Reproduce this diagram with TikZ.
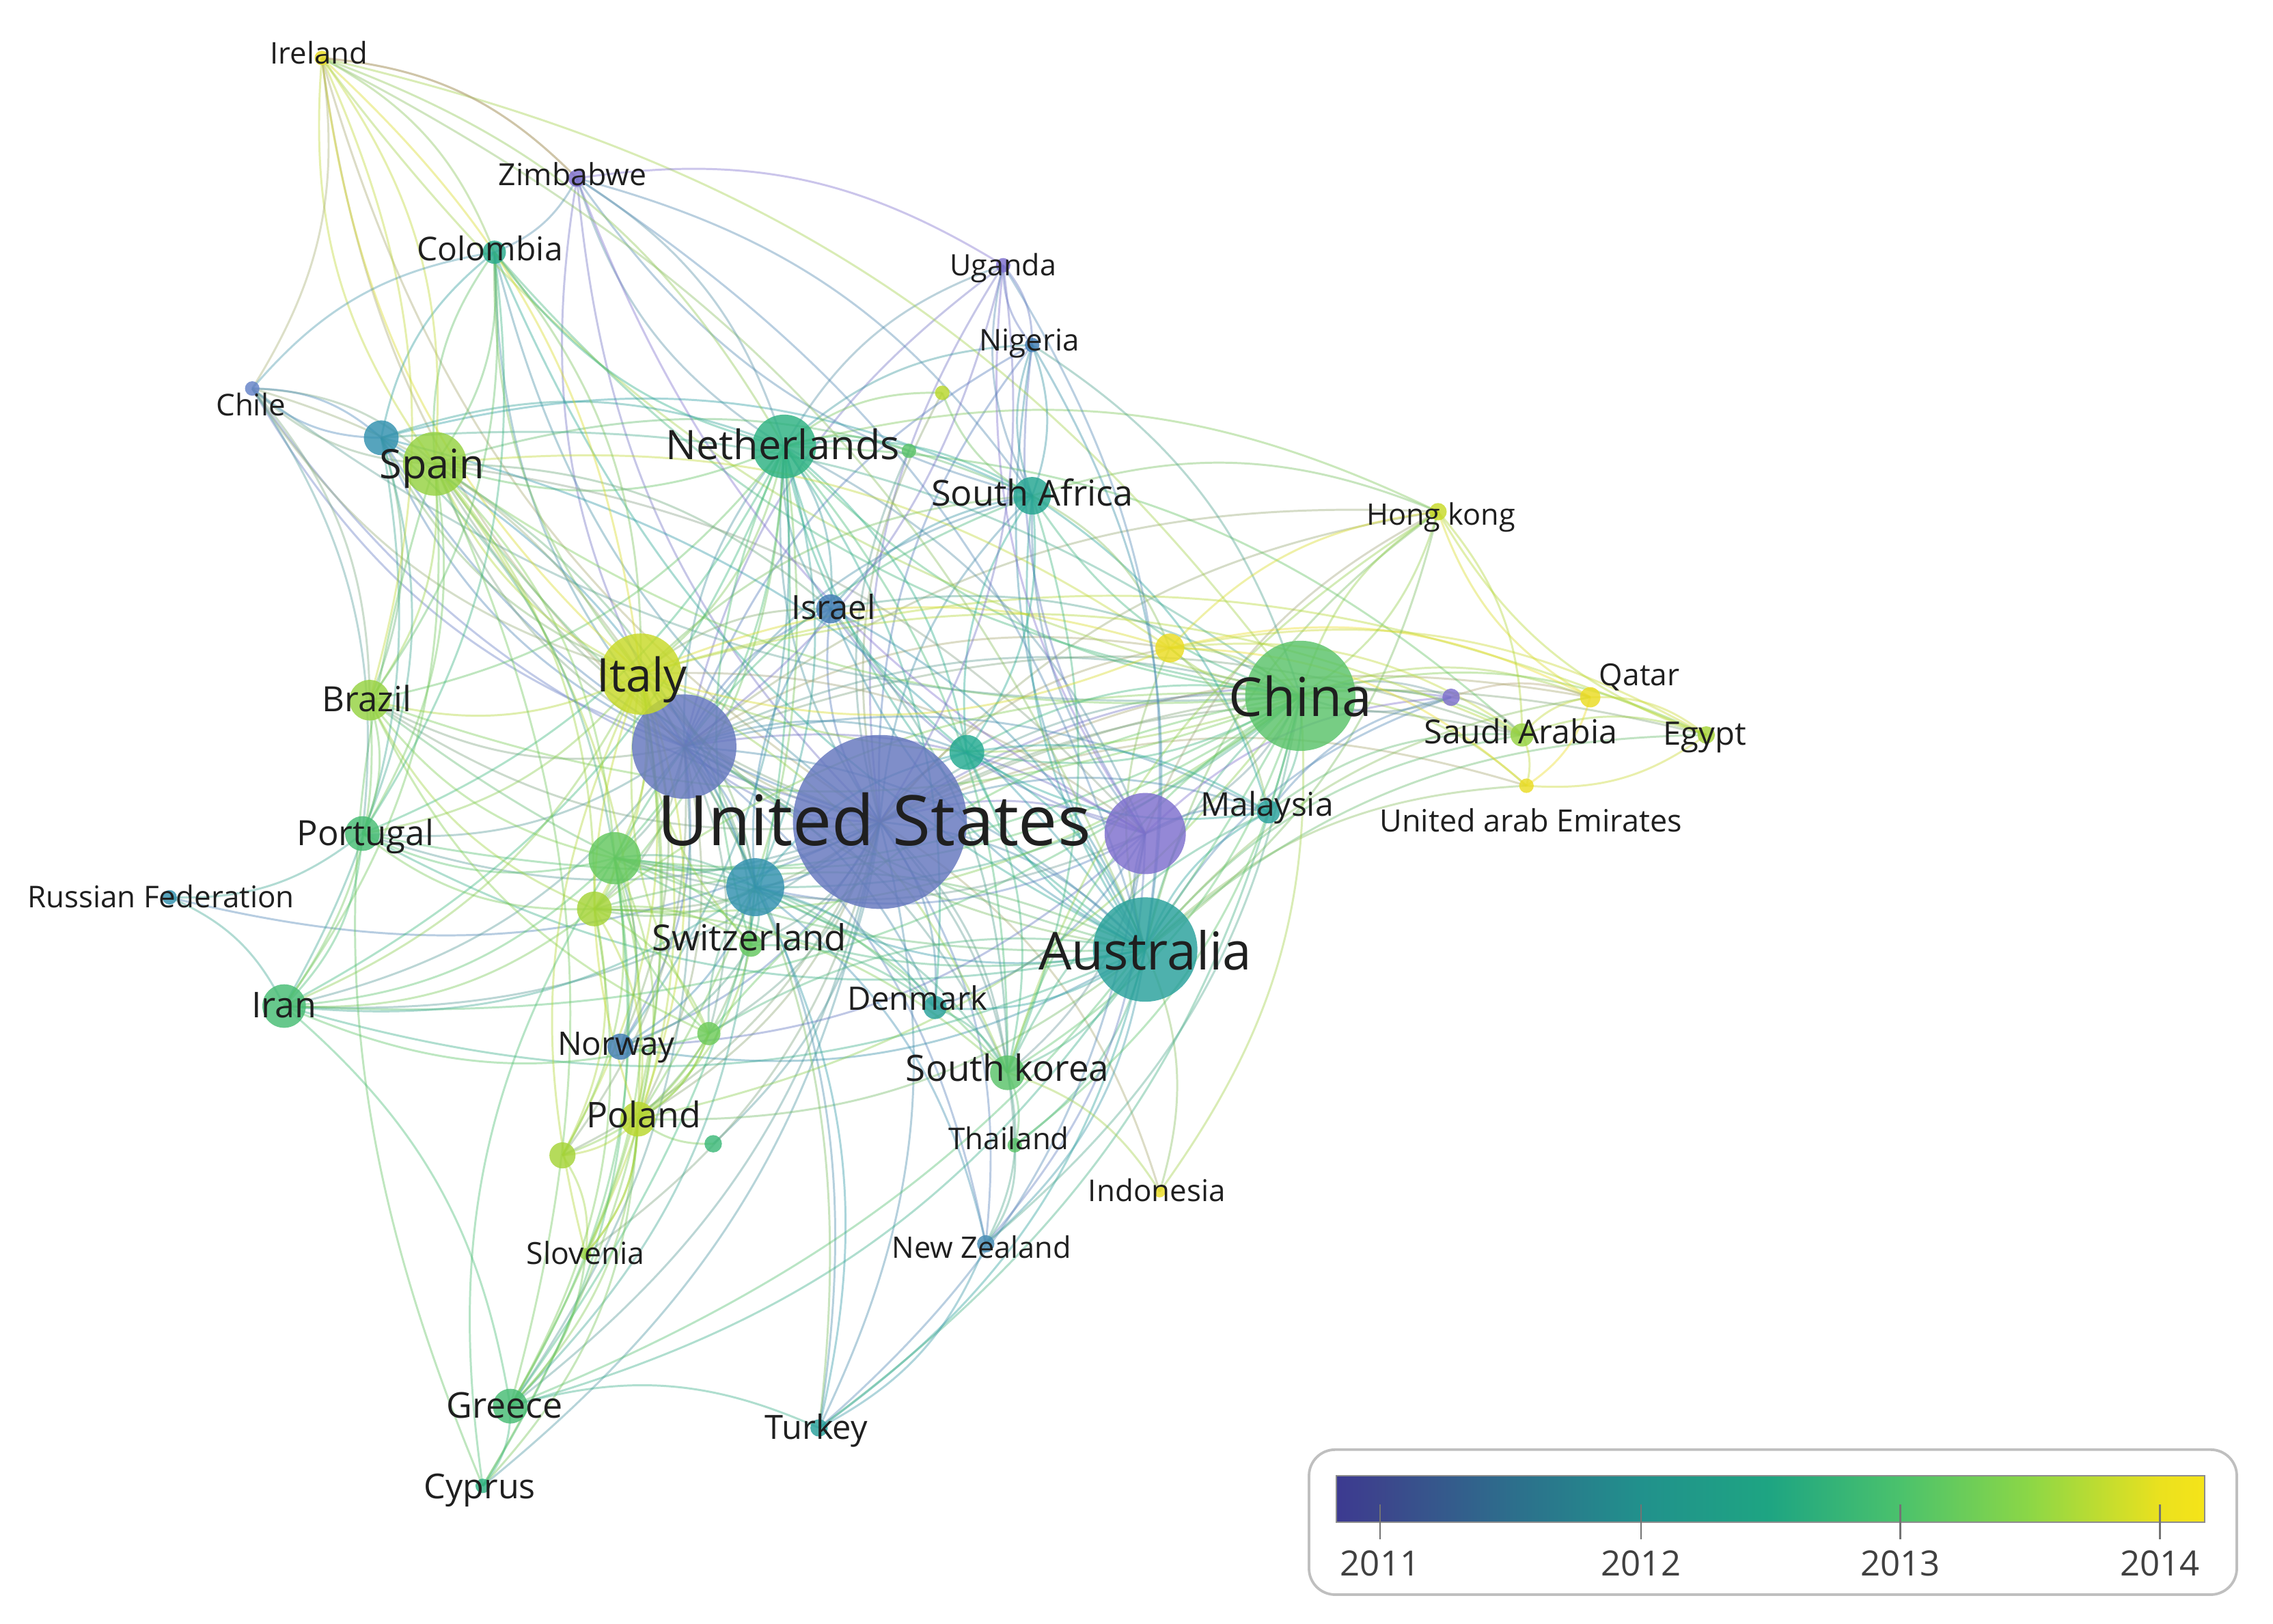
\documentclass[tikz,border=0pt]{standalone}
\usepackage{fontspec}
\setmainfont{Open Sans}
\usetikzlibrary{backgrounds}
\definecolor{Y11p}{RGB}{125,110,205}
\definecolor{Y11b}{RGB}{100,118,190}
\definecolor{Y112}{RGB}{100,130,200}
\definecolor{Y115}{RGB}{65,125,180}
\definecolor{Y117}{RGB}{70,140,180}
\definecolor{Y118}{RGB}{50,145,175}
\definecolor{Y12}{RGB}{40,160,155}
\definecolor{Y122}{RGB}{35,165,145}
\definecolor{Y123}{RGB}{40,170,140}
\definecolor{Y124}{RGB}{35,170,145}
\definecolor{Y125}{RGB}{45,178,130}
\definecolor{Y127}{RGB}{60,185,120}
\definecolor{Y128}{RGB}{70,188,115}
\definecolor{Y13}{RGB}{90,195,105}
\definecolor{Y132}{RGB}{100,200,95}
\definecolor{Y133}{RGB}{110,203,90}
\definecolor{Y135}{RGB}{150,210,65}
\definecolor{Y136}{RGB}{165,212,55}
\definecolor{Y137}{RGB}{185,215,45}
\definecolor{Y138}{RGB}{200,218,40}
\definecolor{Y14}{RGB}{235,220,35}
\definecolor{b0}{RGB}{60,58,145}
\definecolor{b1}{RGB}{60,70,140}
\definecolor{b2}{RGB}{45,110,140}
\definecolor{b3}{RGB}{33,145,140}
\definecolor{b4}{RGB}{30,165,130}
\definecolor{b5}{RGB}{75,194,108}
\definecolor{b6}{RGB}{140,215,70}
\definecolor{b7}{RGB}{235,225,30}
\definecolor{b8}{RGB}{245,228,25}
\newcommand\mkn[5]{\colorlet{c#1}{#5}\node[bub, minimum size=#4pt, fill=#5] (#1) at (#2,#3) {};}
\newcommand\mkl[5]{\node[lab, font=\fontsize{#4}{#4}\selectfont] (l#1) at (#2,#3) {#5};}
\begin{document}
\begin{tikzpicture}[x=1pt,y=1pt,
  bub/.style={circle, inner sep=0pt, draw=none, fill opacity=0.82},
  lab/.style={anchor=base, inner sep=0pt, text=black!88},
  edge/.style={line width=1.4pt, draw opacity=0.4, bend left=20},
  tick/.style={anchor=base, inner sep=0pt, text=black!75, font=\fontsize{24}{24}\selectfont},
]
\useasboundingbox (0,0) rectangle (1568,1120);
% nodes
\mkn{us}{607}{553}{120}{Y11b}
\mkn{uk}{472}{605}{72}{Y11b}
\mkn{ca}{790}{545}{56}{Y11p}
\mkn{au}{790}{465}{72}{Y12}
\mkn{cn}{897}{640}{76}{Y13}
\mkn{it}{442}{655}{56}{Y138}
\mkn{es}{300}{800}{44}{Y135}
\mkn{gs}{263}{818}{24}{Y118}
\mkn{nl}{541}{812}{44}{Y125}
\mkn{za}{712}{778}{26}{Y122}
\mkn{il}{573}{700}{20}{Y115}
\mkn{tl}{667}{601}{24}{Y124}
\mkn{de}{521}{508}{40}{Y118}
\mkn{sw}{518}{468}{16}{Y132}
\mkn{fr}{424}{528}{36}{Y132}
\mkn{hx}{410}{493}{24}{Y136}
\mkn{br}{255}{637}{28}{Y135}
\mkn{pt}{250}{545}{24}{Y128}
\mkn{ru}{117}{501}{10}{Y118}
\mkn{ir}{196}{426}{30}{Y128}
\mkn{no}{428}{398}{18}{Y115}
\mkn{hy}{489}{407}{16}{Y133}
\mkn{dk}{645}{425}{16}{Y12}
\mkn{kr}{695}{380}{24}{Y13}
\mkn{th}{700}{330}{10}{Y13}
\mkn{pl}{440}{348}{24}{Y137}
\mkn{hz}{388}{323}{18}{Y136}
\mkn{hw}{492}{331}{12}{Y127}
\mkn{si}{404}{255}{8}{Y135}
\mkn{nz}{680}{262}{12}{Y117}
\mkn{id}{800}{298}{8}{Y14}
\mkn{tr}{565}{135}{12}{Y12}
\mkn{gc}{352}{150}{24}{Y128}
\mkn{cy}{333}{95}{10}{Y125}
\mkn{ie}{222}{1080}{10}{Y14}
\mkn{zw}{398}{997}{12}{Y11p}
\mkn{co}{341}{946}{16}{Y123}
\mkn{cl}{174}{852}{10}{Y112}
\mkn{ug}{692}{937}{10}{Y11p}
\mkn{ng}{712}{882}{10}{Y115}
\mkn{ka}{650}{849}{10}{Y137}
\mkn{kb}{627}{809}{10}{Y13}
\mkn{hk}{992}{767}{12}{Y138}
\mkn{ym}{807}{673}{20}{Y14}
\mkn{pu}{1001}{639}{12}{Y11p}
\mkn{qa}{1097}{639}{14}{Y14}
\mkn{sa}{1050}{613}{16}{Y135}
\mkn{eg}{1177}{613}{12}{Y136}
\mkn{ae}{1053}{578}{10}{Y14}
\mkn{my}{875}{560}{16}{Y12}
% edges
\begin{scope}[on background layer]
\fill[white] (0,0) rectangle (1568,1120);
\foreach \a/\bl in {
 us/{uk,ca,au,cn,it,es,gs,nl,za,il,tl,de,sw,fr,hx,br,pt,ru,ir,no,hy,dk,kr,th,pl,hz,hw,si,nz,id,tr,gc,cy,zw,co,cl,ug,ng,ka,kb,hk,ym,pu,qa,sa,eg,ae,my,ie},
 uk/{ca,au,cn,it,es,gs,nl,za,il,tl,de,sw,fr,hx,br,pt,ir,no,hy,dk,kr,pl,hz,nz,tr,gc,zw,co,cl,ug,ng,hk,ym,my,sa,ie},
 au/{cn,ca,it,es,nl,za,il,tl,de,fr,br,pt,ir,no,dk,kr,th,pl,nz,id,tr,gc,my,hk,ym,sa,qa,ae,eg,pu,co,ng},
 cn/{ca,it,es,nl,za,tl,de,fr,hx,br,pt,ir,kr,th,pl,my,hk,ym,pu,qa,sa,eg,ae,gc,tr,nz,id,co,ie,cl},
 nl/{it,es,za,il,de,fr,hx,br,pt,ir,no,dk,kr,pl,gc,co,ug,ng,ka,kb,zw,ca,tl,hk,sa},
 it/{es,gs,za,il,de,fr,hx,br,pt,ir,no,pl,hz,gc,cy,ca,cl,co,ie,sa,eg,ym,kr,si,tr},
 es/{gs,br,pt,ir,fr,hx,de,co,cl,ie,pl,gc,ca,ym,za,il},
 ca/{za,il,de,fr,my,pu,kr,nz,dk,zw,ug,ng,hk,tr,no},
 fr/{de,hx,br,pt,ir,pl,hz,gc,sw,no,dk,kr,si,cy,za},
 de/{hx,sw,no,dk,pl,ir,gc,tr,nz,kr,il,tl},
 za/{ng,ug,ka,my,zw,tl,hk,ym,kr},
 gs/{br,pt,ir,co,cl,fr,de,nl,za,au,cn},
 hx/{br,pt,ir,pl,hz,gc,hy,kr,au,cn,sw},
 hy/{fr,de,pl,hz,it,cn,au,ir,br},
 tl/{cn,au,my,kr,za,nl}, il/{za,nl,cn,au,kr}, kr/{cn,my,hk},
 ym/{cn,it,sa,qa,ae,eg,my}, pu/{cn,sa,qa}, hk/{cn,au,sa},
 sw/{it,nl,no,pl,dk}, pl/{it,gc,si,cy}, si/{it,gc}, cy/{es,fr},
 co/{es,br,it,pt}, ie/{es,it,nl,au,cn,zw,cl,br}, cl/{es,br,pt,gs,it},
 zw/{za,ug,au,nl}, ng/{au,cn,za,ug}, ug/{uk,us,au},
 br/{pt,ir}, pt/{ir,ru}, ru/{ir}, ir/{gc}, gc/{cy,tr}, pl/{si,hz}, hz/{si},
 kr/{th,nz,id}, th/{nz}, nz/{tr}, my/{sa,pu,tl}, sa/{qa,eg,ae}, qa/{eg,ae,hk},
 eg/{ae,hk}, ym/{hk}, ie/{co,zw}, zw/{co}, ug/{ng}, cl/{co}, dk/{kr}, hy/{pl}, hw/{pl}}
{\foreach \b in \bl {\draw[edge, draw=c\a!50!c\b] (\a.center) to (\b.center);}}
\end{scope}
% labels
\mkl{us}{603}{537}{48}{United States}
\mkl{cn}{897}{626}{37}{China}
\mkl{au}{790}{451}{36}{Australia}
\mkl{it}{443}{643}{32}{Italy}
\mkl{es}{298}{790}{28}{Spain}
\mkl{nl}{540}{803}{28}{Netherlands}
\mkl{za}{712}{771}{24.6}{South Africa}
\mkl{il}{575}{693}{23}{Israel}
\mkl{br}{253}{629}{24}{Brazil}
\mkl{pt}{252}{537}{24}{Portugal}
\mkl{ru}{111}{494}{20.7}{Russian Federation}
\mkl{ir}{196}{418}{24.5}{Iran}
\mkl{sw}{517}{464}{24.8}{Switzerland}
\mkl{dk}{633}{423}{22.3}{Denmark}
\mkl{no}{425}{392}{22.4}{Norway}
\mkl{kr}{695}{374}{25}{South korea}
\mkl{th}{696}{327}{20.7}{Thailand}
\mkl{pl}{444}{342}{24.4}{Poland}
\mkl{si}{404}{248}{21}{Slovenia}
\mkl{id}{798}{291}{20.7}{Indonesia}
\mkl{nz}{677}{252}{20.4}{New Zealand}
\mkl{gc}{348}{142}{24.5}{Greece}
\mkl{tr}{563}{127}{23}{Turkey}
\mkl{cy}{331}{86}{23.7}{Cyprus}
\mkl{ie}{220}{1076}{20.6}{Ireland}
\mkl{zw}{395}{992}{21}{Zimbabwe}
\mkl{co}{338}{940}{22.6}{Colombia}
\mkl{cl}{173}{833}{20.7}{Chile}
\mkl{ug}{692}{930}{20.3}{Uganda}
\mkl{ng}{710}{878}{20.7}{Nigeria}
\mkl{hk}{994}{758}{20.4}{Hong kong}
\mkl{qa}{1131}{647}{20.9}{Qatar}
\mkl{sa}{1049}{607}{22.8}{Saudi Arabia}
\mkl{eg}{1176}{606}{22.3}{Egypt}
\mkl{my}{874}{557}{22.6}{Malaysia}
\mkl{ae}{1056}{546}{21.2}{United arab Emirates}
% legend
\node[draw=black!25, line width=1.8pt, rounded corners=18pt, fill=white, minimum width=640pt, minimum height=100pt, inner sep=0pt] (frame) at (1223,70) {};
\shade[left color=b0, right color=b1] (922,70) rectangle (952.5,102);
\shade[left color=b1, right color=b2] (952,70) rectangle (1042.5,102);
\shade[left color=b2, right color=b3] (1042,70) rectangle (1132.5,102);
\shade[left color=b3, right color=b4] (1132,70) rectangle (1221.5,102);
\shade[left color=b4, right color=b5] (1221,70) rectangle (1311.5,102);
\shade[left color=b5, right color=b6] (1311,70) rectangle (1400.5,102);
\shade[left color=b6, right color=b7] (1400,70) rectangle (1490.5,102);
\shade[left color=b7, right color=b8] (1490,70) rectangle (1521,102);
\node[draw=black!45, line width=0.8pt, minimum width=599pt, minimum height=32pt, inner sep=0pt] (bar) at (1221.5,86) {};
\foreach \x/\t in {952/2011,1132/2012,1311/2013,1490/2014}{
  \coordinate (t\t) at (\x,82);
  \draw[black!55, line width=1.2pt] (t\t) -- ++(0,-24);
  \node[tick] (y\t) at (\x,33) {\t};
}
\end{tikzpicture}
\end{document}
